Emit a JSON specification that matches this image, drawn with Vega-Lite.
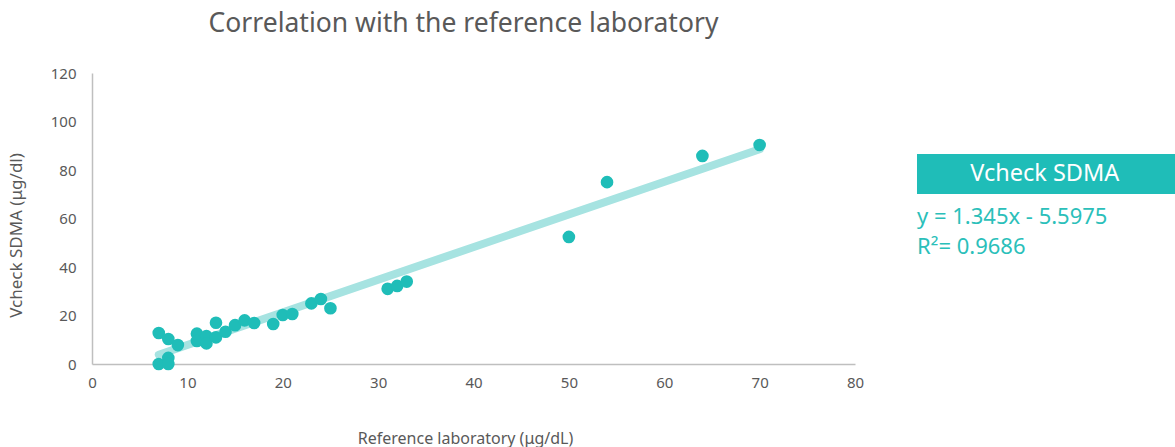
{
  "$schema": "https://vega.github.io/schema/vega-lite/v6.json",
  "width": 763,
  "height": 291,
  "autosize": {"type": "none"},
  "padding": {"left": 92, "top": 73, "right": 320, "bottom": 83},
  "background": "white",
  "config": {"view": {"stroke": null}, "font": "Noto Sans"},
  "title": {
    "text": "Correlation with the reference laboratory",
    "fontSize": 26.5,
    "fontWeight": "normal",
    "color": "#595959",
    "anchor": "middle",
    "dx": -10,
    "offset": 29
  },
  "datasets": {
    "points": [
      {"ref": 7, "vcheck": 12.8}, {"ref": 7, "vcheck": 0}, {"ref": 8, "vcheck": 10.3},
      {"ref": 8, "vcheck": 2.5}, {"ref": 8, "vcheck": 0}, {"ref": 9, "vcheck": 7.8},
      {"ref": 11, "vcheck": 12.5}, {"ref": 11, "vcheck": 9.5}, {"ref": 12, "vcheck": 11.5},
      {"ref": 12, "vcheck": 8.5}, {"ref": 13, "vcheck": 17}, {"ref": 13, "vcheck": 11},
      {"ref": 14, "vcheck": 13.3}, {"ref": 15, "vcheck": 16}, {"ref": 16, "vcheck": 18},
      {"ref": 17, "vcheck": 16.9}, {"ref": 19, "vcheck": 16.5}, {"ref": 20, "vcheck": 20.2},
      {"ref": 21, "vcheck": 20.6}, {"ref": 23, "vcheck": 25}, {"ref": 24, "vcheck": 26.8},
      {"ref": 25, "vcheck": 23}, {"ref": 31, "vcheck": 31}, {"ref": 32, "vcheck": 32.2},
      {"ref": 33, "vcheck": 34}, {"ref": 50, "vcheck": 52.4}, {"ref": 54, "vcheck": 75},
      {"ref": 64, "vcheck": 85.8}, {"ref": 70, "vcheck": 90.3}
    ],
    "trend": [{"ref": 7, "vcheck": 3.82}, {"ref": 70, "vcheck": 88.55}]
  },
  "layer": [
    {
      "data": {"name": "trend"},
      "mark": {"type": "line", "color": "#a6e3e1", "strokeWidth": 8, "strokeCap": "round"},
      "encoding": {
        "x": {
          "field": "ref", "type": "quantitative",
          "scale": {"domain": [0, 80], "nice": false, "zero": false},
          "axis": {
            "title": "Reference laboratory (μg/dL)",
            "values": [0, 10, 20, 30, 40, 50, 60, 70, 80],
            "grid": false, "ticks": false, "labelFlush": false,
            "domainColor": "#bfbfbf", "domainWidth": 1.5,
            "labelFontSize": 15, "labelColor": "#595959", "labelPadding": 11,
            "titleFontSize": 16, "titleFontWeight": "normal", "titleColor": "#595959",
            "titlePadding": 40, "titleX": 373
          }
        },
        "y": {
          "field": "vcheck", "type": "quantitative",
          "scale": {"domain": [0, 120], "nice": false},
          "axis": {
            "title": "Vcheck SDMA (μg/dl)",
            "values": [0, 20, 40, 60, 80, 100, 120],
            "grid": false, "ticks": false, "labelFlush": false,
            "domainColor": "#bfbfbf", "domainWidth": 1.5,
            "labelFontSize": 15, "labelColor": "#595959", "labelPadding": 16,
            "titleFontSize": 17, "titleFontWeight": "normal", "titleColor": "#595959",
            "titlePadding": 25, "titleY": 162
          }
        }
      }
    },
    {
      "data": {"name": "points"},
      "mark": {"type": "circle", "color": "#1fbdb8", "opacity": 1, "size": 160},
      "encoding": {
        "x": {"field": "ref", "type": "quantitative"},
        "y": {"field": "vcheck", "type": "quantitative"}
      }
    },
    {
      "data": {"values": [{"label": "Vcheck SDMA"}]},
      "mark": {"type": "rect", "color": "#1fbdb8"},
      "encoding": {
        "x": {"datum": 86.5, "type": "quantitative"},
        "x2": {"datum": 113.6},
        "y": {"datum": 86.6, "type": "quantitative"},
        "y2": {"datum": 70.1}
      }
    },
    {
      "data": {"values": [{"label": "Vcheck SDMA"}]},
      "mark": {"type": "text", "color": "white", "fontSize": 23.5, "align": "center", "baseline": "middle"},
      "encoding": {
        "x": {"datum": 99.9, "type": "quantitative"},
        "y": {"datum": 78.3, "type": "quantitative"},
        "text": {"field": "label"}
      }
    },
    {
      "data": {"values": [{"label": "y = 1.345x - 5.5975", "row": 60.6}, {"label": "R²= 0.9686", "row": 48.3}]},
      "mark": {"type": "text", "color": "#2bbfba", "fontSize": 22, "align": "left", "baseline": "middle"},
      "encoding": {
        "x": {"datum": 86.5, "type": "quantitative"},
        "y": {"field": "row", "type": "quantitative"},
        "text": {"field": "label"}
      }
    }
  ]
}
